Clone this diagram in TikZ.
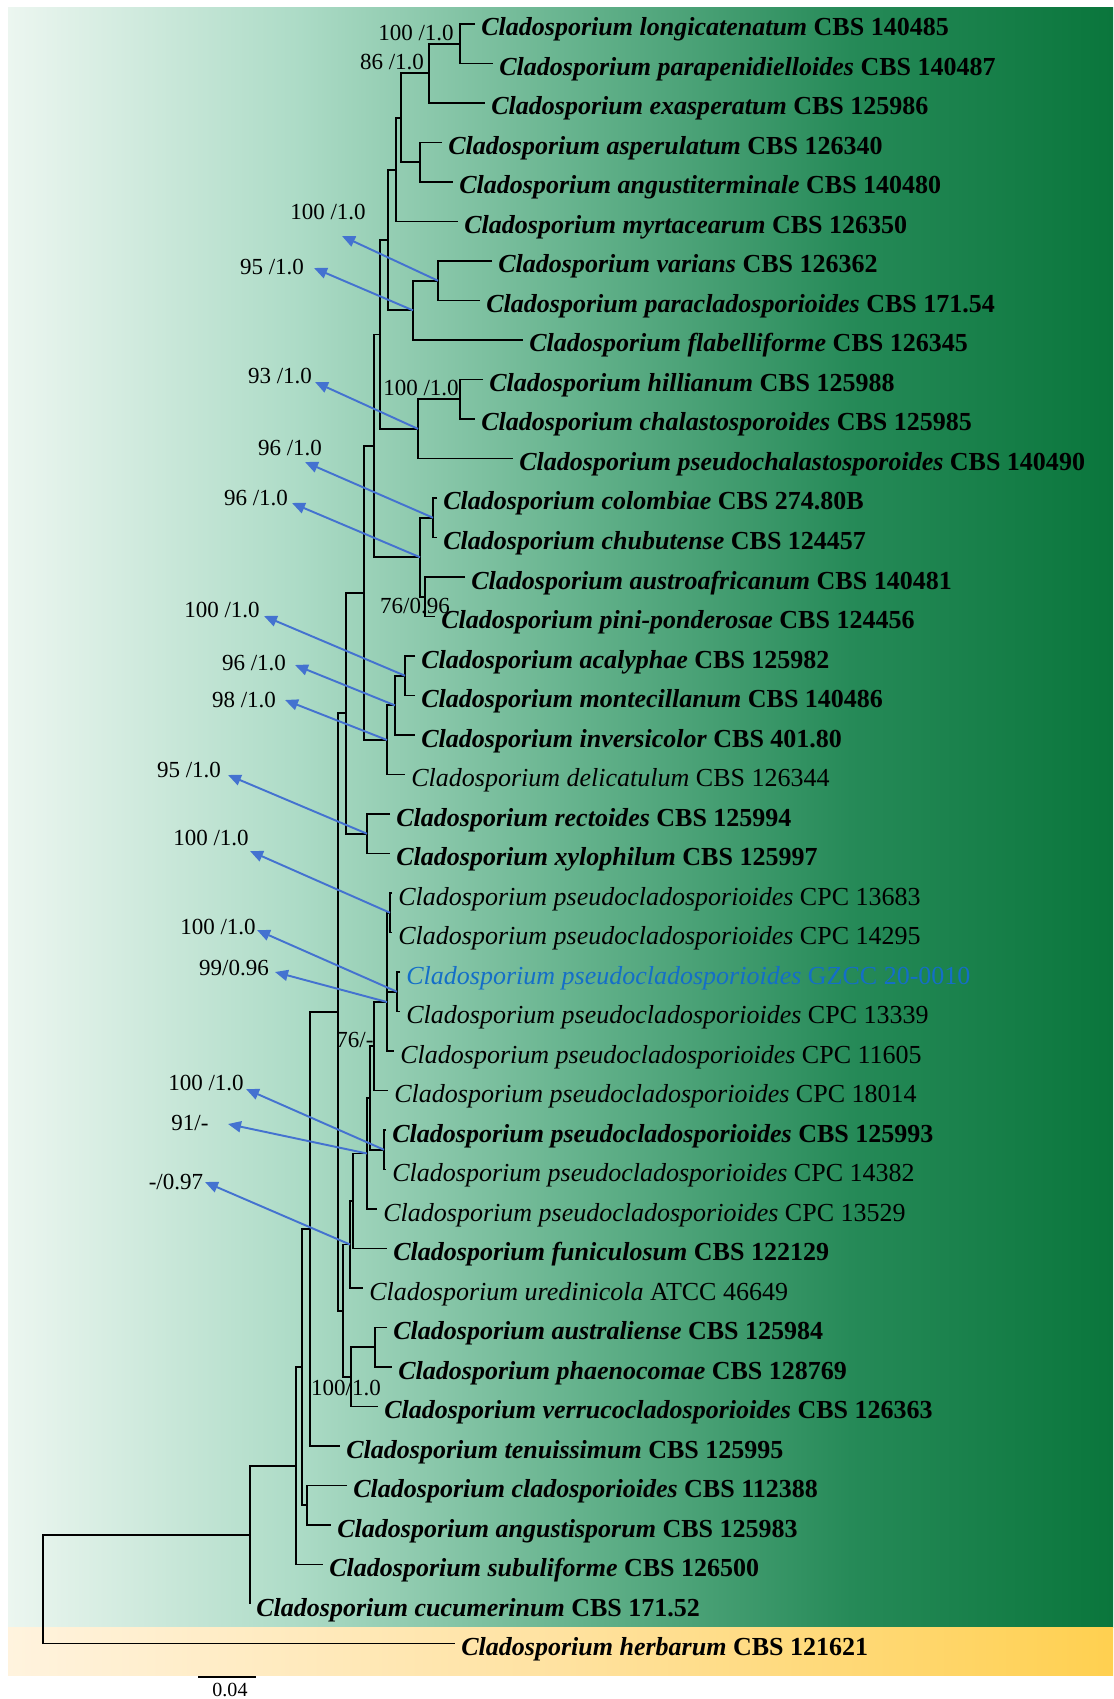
\documentclass[tikz,border=0pt]{standalone}
\usepackage{fontspec}
\setmainfont{Liberation Serif}
\usetikzlibrary{arrows.meta}

\definecolor{arrowblue}{RGB}{68,114,208}
\definecolor{newstrain}{RGB}{20,110,200}
\definecolor{bg0}{RGB}{236,246,240}
\definecolor{bg1}{RGB}{172,219,198}
\definecolor{bg2}{RGB}{100,178,140}
\definecolor{bg3}{RGB}{38,138,88}
\definecolor{bg4}{RGB}{10,118,60}
\definecolor{yl0}{RGB}{255,243,222}
\definecolor{yl1}{RGB}{255,226,160}
\definecolor{yl2}{RGB}{255,208,80}

\newcommand{\bsp}[2]{\textbf{\textit{Cladosporium #1} #2}}
\newcommand{\nsp}[2]{\textit{Cladosporium #1} #2}

\begin{document}
\begin{tikzpicture}[x=0.02cm, y=-0.02cm,
	branch/.style={line width=1.1pt, black},
	tax/.style={anchor=base west, inner sep=0, xshift=0.12cm, yshift=-0.24cm, font=\fontsize{14.8}{16}\selectfont},
	supp/.style={inner sep=0, font=\fontsize{13.1}{15}\selectfont},
	supparrow/.style={arrowblue, line width=1.1pt, -{Triangle[length=0.26cm, width=0.22cm]}}]

	\useasboundingbox (0,0) rectangle (1113,1699);

	% Background bands
	\shade[left color=bg0, right color=bg1] (8,8) rectangle (301,1627);
	\shade[left color=bg1, right color=bg2] (300,8) rectangle (581,1627);
	\shade[left color=bg2, right color=bg3] (580,8) rectangle (851,1627);
	\shade[left color=bg3, right color=bg4] (850,8) rectangle (1113,1627);
	\shade[left color=yl0, right color=yl1] (8,1627) rectangle (561,1675);
	\shade[left color=yl1, right color=yl2] (560,1627) rectangle (1113,1675);

	% Tips
	\coordinate (t0) at (475,24);
	\coordinate (t1) at (493,63.5);
	\coordinate (t2) at (485,103);
	\coordinate (t3) at (442,142.5);
	\coordinate (t4) at (453,182);
	\coordinate (t5) at (458,221.5);
	\coordinate (t6) at (492,261);
	\coordinate (t7) at (480,300.5);
	\coordinate (t8) at (523,340);
	\coordinate (t9) at (483,379.5);
	\coordinate (t10) at (475,419);
	\coordinate (t11) at (513,458.5);
	\coordinate (t12) at (437,498);
	\coordinate (t13) at (437,537.5);
	\coordinate (t14) at (465,577);
	\coordinate (t15) at (435,616.5);
	\coordinate (t16) at (415,656);
	\coordinate (t17) at (415,695.5);
	\coordinate (t18) at (415,735);
	\coordinate (t19) at (405,774.5);
	\coordinate (t20) at (390,814);
	\coordinate (t21) at (390,853.5);
	\coordinate (t22) at (392,893);
	\coordinate (t23) at (392,932.5);
	\coordinate (t24) at (400,972);
	\coordinate (t25) at (400,1011.5);
	\coordinate (t26) at (394,1051);
	\coordinate (t27) at (388,1090.5);
	\coordinate (t28) at (386,1130);
	\coordinate (t29) at (386,1169.5);
	\coordinate (t30) at (377,1209);
	\coordinate (t31) at (387,1248.5);
	\coordinate (t32) at (363,1288);
	\coordinate (t33) at (387,1327.5);
	\coordinate (t34) at (392,1367);
	\coordinate (t35) at (378,1406.5);
	\coordinate (t36) at (340,1446);
	\coordinate (t37) at (347,1485.5);
	\coordinate (t38) at (331,1525);
	\coordinate (t39) at (323,1564.5);
	\coordinate (t40) at (250,1604);
	\coordinate (t41) at (455,1643.5);

	% Internal nodes
	\coordinate (nA) at (460,43.75);
	\coordinate (nB) at (429,73.4);
	\coordinate (nC) at (401,117.8);
	\coordinate (nD) at (420,162.25);
	\coordinate (nE) at (396,169.7);
	\coordinate (nF) at (388,240);
	\coordinate (nG) at (413,310.4);
	\coordinate (nH) at (438,280.75);
	\coordinate (nI) at (380,334.5);
	\coordinate (nJ) at (418,428.9);
	\coordinate (nK) at (460,399.25);
	\coordinate (nL) at (374,445.9);
	\coordinate (nM) at (420,557.25);
	\coordinate (nN) at (433,517.75);
	\coordinate (nO) at (425,596.75);
	\coordinate (nP) at (364,593);
	\coordinate (nQ) at (387,740);
	\coordinate (nR) at (395,705.4);
	\coordinate (nS) at (405,675.75);
	\coordinate (nT) at (346,713.4);
	\coordinate (nU) at (367,833.75);
	\coordinate (nV) at (338,1012);
	\coordinate (nW) at (310,1229);
	\coordinate (nX) at (390,912.75);
	\coordinate (nY) at (397,991.75);
	\coordinate (nZ) at (387,1002);
	\coordinate (n76) at (374,1046.25);
	\coordinate (nAA) at (384,1149.75);
	\coordinate (nGG) at (370,1098);
	\coordinate (nFF) at (367,1153.5);
	\coordinate (nCC) at (353,1201);
	\coordinate (nDD) at (350,1244.5);
	\coordinate (nEE) at (343,1310.7);
	\coordinate (nLL) at (375,1347.25);
	\coordinate (nMM) at (351,1376.9);
	\coordinate (nHH) at (302,1367.1);
	\coordinate (nII) at (307,1505.25);
	\coordinate (nJJ) at (296,1465.8);
	\coordinate (nKK) at (250,1534.9);
	\coordinate (root) at (43,1589.2);

	% Branches
	\draw[branch] (t0) -| (nA) |- (t1);
	\draw[branch] (nA) -| (nB) |- (t2);
	\draw[branch] (t3) -| (nD) |- (t4);
	\draw[branch] (nB) -| (nC) |- (nD);
	\draw[branch] (nC) -| (nE) |- (t5);
	\draw[branch] (t6) -| (nH) |- (t7);
	\draw[branch] (nH) -| (nG) |- (t8);
	\draw[branch] (nE) -| (nF) |- (nG);
	\draw[branch] (t9) -| (nK) |- (t10);
	\draw[branch] (nK) -| (nJ) |- (t11);
	\draw[branch] (nF) -| (nI) |- (nJ);
	\draw[branch] (t12) -| (nN) |- (t13);
	\draw[branch] (t14) -| (nO) |- (t15);
	\draw[branch] (nN) -| (nM) |- (nO);
	\draw[branch] (nI) -| (nL) |- (nM);
	\draw[branch] (t16) -| (nS) |- (t17);
	\draw[branch] (nS) -| (nR) |- (t18);
	\draw[branch] (nR) -| (nQ) |- (t19);
	\draw[branch] (nL) -| (nP) |- (nQ);
	\draw[branch] (t20) -| (nU) |- (t21);
	\draw[branch] (nP) -| (nT) |- (nU);
	\draw[branch] (t22) -| (nX) |- (t23);
	\draw[branch] (t24) -| (nY) |- (t25);
	\draw[branch] (nX) -| (nZ) |- (t26);
	\draw[branch] (nZ |- nY) -- (nY);
	\draw[branch] (nZ) -| (n76) |- (t27);
	\draw[branch] (t28) -| (nAA) |- (t29);
	\draw[branch] (n76) -| (nGG) |- (nAA);
	\draw[branch] (nGG) -| (nFF) |- (t30);
	\draw[branch] (nFF) -| (nCC) |- (t31);
	\draw[branch] (nCC) -| (nDD) |- (t32);
	\draw[branch] (t33) -| (nLL) |- (t34);
	\draw[branch] (nLL) -| (nMM) |- (t35);
	\draw[branch] (nDD) -| (nEE) |- (nMM);
	\draw[branch] (nT) -| (nV) |- (nEE);
	\draw[branch] (nV) -| (nW) |- (t36);
	\draw[branch] (t37) -| (nII) |- (t38);
	\draw[branch] (nW) -| (nHH) |- (nII);
	\draw[branch] (nHH) -| (nJJ) |- (t39);
	\draw[branch] (nJJ) -| (nKK) |- (t40);
	\draw[branch] (nKK) -| (root) |- (t41);

	% Taxa
	\node[tax] (l0) at (t0) {\bsp{longicatenatum}{CBS 140485}};
	\node[tax] (l1) at (t1) {\bsp{parapenidielloides}{CBS 140487}};
	\node[tax] (l2) at (t2) {\bsp{exasperatum}{CBS 125986}};
	\node[tax] (l3) at (t3) {\bsp{asperulatum}{CBS 126340}};
	\node[tax] (l4) at (t4) {\bsp{angustiterminale}{CBS 140480}};
	\node[tax] (l5) at (t5) {\bsp{myrtacearum}{CBS 126350}};
	\node[tax] (l6) at (t6) {\bsp{varians}{CBS 126362}};
	\node[tax] (l7) at (t7) {\bsp{paracladosporioides}{CBS 171.54}};
	\node[tax] (l8) at (t8) {\bsp{flabelliforme}{CBS 126345}};
	\node[tax] (l9) at (t9) {\bsp{hillianum}{CBS 125988}};
	\node[tax] (l10) at (t10) {\bsp{chalastosporoides}{CBS 125985}};
	\node[tax] (l11) at (t11) {\bsp{pseudochalastosporoides}{CBS 140490}};
	\node[tax] (l12) at (t12) {\bsp{colombiae}{CBS 274.80B}};
	\node[tax] (l13) at (t13) {\bsp{chubutense}{CBS 124457}};
	\node[tax] (l14) at (t14) {\bsp{austroafricanum}{CBS 140481}};
	\node[tax] (l15) at (t15) {\bsp{pini-ponderosae}{CBS 124456}};
	\node[tax] (l16) at (t16) {\bsp{acalyphae}{CBS 125982}};
	\node[tax] (l17) at (t17) {\bsp{montecillanum}{CBS 140486}};
	\node[tax] (l18) at (t18) {\bsp{inversicolor}{CBS 401.80}};
	\node[tax] (l19) at (t19) {\nsp{delicatulum}{CBS 126344}};
	\node[tax] (l20) at (t20) {\bsp{rectoides}{CBS 125994}};
	\node[tax] (l21) at (t21) {\bsp{xylophilum}{CBS 125997}};
	\node[tax] (l22) at (t22) {\nsp{pseudocladosporioides}{CPC 13683}};
	\node[tax] (l23) at (t23) {\nsp{pseudocladosporioides}{CPC 14295}};
	\node[tax, text=newstrain] (l24) at (t24) {\nsp{pseudocladosporioides}{GZCC 20-0010}};
	\node[tax] (l25) at (t25) {\nsp{pseudocladosporioides}{CPC 13339}};
	\node[tax] (l26) at (t26) {\nsp{pseudocladosporioides}{CPC 11605}};
	\node[tax] (l27) at (t27) {\nsp{pseudocladosporioides}{CPC 18014}};
	\node[tax] (l28) at (t28) {\bsp{pseudocladosporioides}{CBS 125993}};
	\node[tax] (l29) at (t29) {\nsp{pseudocladosporioides}{CPC 14382}};
	\node[tax] (l30) at (t30) {\nsp{pseudocladosporioides}{CPC 13529}};
	\node[tax] (l31) at (t31) {\bsp{funiculosum}{CBS 122129}};
	\node[tax] (l32) at (t32) {\nsp{uredinicola}{ATCC 46649}};
	\node[tax] (l33) at (t33) {\bsp{australiense}{CBS 125984}};
	\node[tax] (l34) at (t34) {\bsp{phaenocomae}{CBS 128769}};
	\node[tax] (l35) at (t35) {\bsp{verrucocladosporioides}{CBS 126363}};
	\node[tax] (l36) at (t36) {\bsp{tenuissimum}{CBS 125995}};
	\node[tax] (l37) at (t37) {\bsp{cladosporioides}{CBS 112388}};
	\node[tax] (l38) at (t38) {\bsp{angustisporum}{CBS 125983}};
	\node[tax] (l39) at (t39) {\bsp{subuliforme}{CBS 126500}};
	\node[tax] (l40) at (t40) {\bsp{cucumerinum}{CBS 171.52}};
	\node[tax] (l41) at (t41) {\bsp{herbarum}{CBS 121621}};

	% Supports at the nodes
	\node[supp] (d1) at (416,33) {100 /1.0};
	\node[supp] (d2) at (392,62) {86 /1.0};
	\node[supp] (d3) at (421,388) {100 /1.0};
	\node[supp] (d4) at (415,606) {76/0.96};
	\node[supp] (d5) at (355,1040) {76/-};
	\node[supp] (d6) at (346,1388) {100/1.0};

	% Supports with arrows
	\node[supp] (s1) at (328,212) {100 /1.0};
	\node[supp] (s2) at (272,267) {95 /1.0};
	\node[supp] (s3) at (280,376) {93 /1.0};
	\node[supp] (s4) at (290,448) {96 /1.0};
	\node[supp] (s5) at (256,498) {96 /1.0};
	\node[supp] (s6) at (222,610) {100 /1.0};
	\node[supp] (s7) at (254,663) {96 /1.0};
	\node[supp] (s8) at (244,700) {98 /1.0};
	\node[supp] (s9) at (189,770) {95 /1.0};
	\node[supp] (s10) at (211,838) {100 /1.0};
	\node[supp] (s11) at (218,927) {100 /1.0};
	\node[supp] (s12) at (234,968) {99/0.96};
	\node[supp] (s13) at (206,1083) {100 /1.0};
	\node[supp] (s14) at (190,1123) {91/-};
	\node[supp] (s15) at (176,1182) {-/0.97};

	\coordinate (a1) at (342,236);
	\coordinate (a2) at (314,268);
	\coordinate (a3) at (315,382);
	\coordinate (a4) at (305,462);
	\coordinate (a5) at (292,503);
	\coordinate (a6) at (264,616);
	\coordinate (a7) at (295,665);
	\coordinate (a8) at (285,700);
	\coordinate (a9) at (228,775);
	\coordinate (a10) at (250,851);
	\coordinate (a11) at (257,930);
	\coordinate (a12) at (275,972);
	\coordinate (a13) at (246,1089);
	\coordinate (a14) at (228,1124);
	\coordinate (a15) at (205,1182);

	\draw[supparrow] (nH) -- (a1);
	\draw[supparrow] (nG) -- (a2);
	\draw[supparrow] (nJ) -- (a3);
	\draw[supparrow] (nN) -- (a4);
	\draw[supparrow] (nM) -- (a5);
	\draw[supparrow] (nS) -- (a6);
	\draw[supparrow] (nR) -- (a7);
	\draw[supparrow] (nQ) -- (a8);
	\draw[supparrow] (nU) -- (a9);
	\draw[supparrow] (nX) -- (a10);
	\draw[supparrow] (nY) -- (a11);
	\draw[supparrow] (nZ) -- (a12);
	\draw[supparrow] (nAA) -- (a13);
	\draw[supparrow] (nFF) -- (a14);
	\draw[supparrow] (nDD) -- (a15);

	% Scale bar
	\coordinate (sb1) at (198,1677);
	\coordinate (sb2) at (256,1677);
	\draw[line width=1.1pt] (sb1) -- (sb2);
	\node[inner sep=0, font=\fontsize{11.4}{13}\selectfont] (sbl) at (230,1690) {0.04};
\end{tikzpicture}
\end{document}
